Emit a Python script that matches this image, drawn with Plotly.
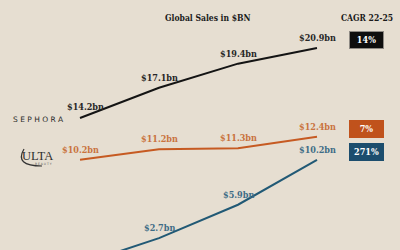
import plotly.graph_objects as go

years = [2022, 2023, 2024, 2025]
sephora = [14.2, 17.1, 19.4, 20.9]
ulta = [10.2, 11.2, 11.3, 12.4]
third = [0.2, 2.7, 5.9, 10.2]
cagr = ["14%", "7%", "271%"]
title = "Global Sales in $BN"
cagr_title = "CAGR 22-25"

BG = "#E6DED1"
series = [
    (sephora, "#141414", "#262626", "#0E0E0E"),
    (ulta, "#C65A22", "#C9733F", "#C0521C"),
    (third, "#215975", "#3E6C86", "#1C4D6D"),
]
FONT = "DejaVu Serif Condensed, DejaVu Serif"
YMIN, YMAX = 14.2 - 132 / 10.45, 14.2 + 118 / 10.45

fig = go.Figure()
for si, (vals, lc, tc, bc) in enumerate(series):
    fig.add_trace(go.Scatter(
        x=years, y=vals, mode="lines", line=dict(color=lc, width=2),
        hoverinfo="skip", showlegend=False))
    for i, (xv, v) in enumerate(zip(years, vals)):
        if v < YMIN:
            continue
        fig.add_annotation(
            x=xv, y=v, xref="x", yref="y", yshift=11 if i == 0 and si == 0 else 10,
            xshift=5 if i == 0 and si == 0 else 0, showarrow=False,
            text="<b>$%.1fbn</b>" % v,
            font=dict(family=FONT, size=9, color=tc))

for (vals, lc, tc, bc), lab in zip(series, cagr):
    fig.add_annotation(
        x=366 / 400, xref="paper", xanchor="center", y=vals[-1], yref="y", yshift=8,
        text="<b>%s</b>" % lab, showarrow=False,
        font=dict(family=FONT, size=9, color="#FFFFFF"),
        bgcolor=bc, width=31, height=14, borderpad=1,
        bordercolor="#8E8A84" if lab == cagr[0] else bc, borderwidth=1)

fig.add_annotation(x=208 / 400, xref="paper", xanchor="center", y=1 - 11 / 250, yref="paper",
                   text="<b>%s</b>" % title, showarrow=False,
                   font=dict(family=FONT, size=8.5, color="#1A1A1A"))
fig.add_annotation(x=367 / 400, xref="paper", xanchor="center", y=1 - 11 / 250, yref="paper",
                   text="<b>%s</b>" % cagr_title, showarrow=False,
                   font=dict(family=FONT, size=8.5, color="#1A1A1A"))

# logos
fig.add_annotation(x=38 / 400, xref="paper", xanchor="center", y=1 - 119 / 250, yref="paper",
                   text="S E P H O R A", showarrow=False,
                   font=dict(family="DejaVu Sans", size=7.5, color="#2A2A2A"))
fig.add_annotation(x=37 / 400, xref="paper", xanchor="center", y=1 - 156 / 250, yref="paper",
                   text="ULTA", showarrow=False,
                   font=dict(family="Liberation Serif", size=12.5, color="#2E2E2E"))
fig.add_annotation(x=43 / 400, xref="paper", xanchor="center", y=1 - 164 / 250, yref="paper",
                   text="B E A U T Y", showarrow=False,
                   font=dict(family="DejaVu Sans", size=3, color="#555555"))
fig.add_shape(type="path", xref="paper", yref="paper",
              path="M 0.06 0.404 Q 0.035 0.336 0.105 0.336",
              line=dict(color="#333333", width=1.2))

fig.update_layout(
    width=400, height=250, margin=dict(l=0, r=0, t=0, b=0),
    paper_bgcolor=BG, plot_bgcolor=BG,
    xaxis=dict(range=[2022 - 80 / 79, 2022 + 320 / 79], visible=False, fixedrange=True),
    yaxis=dict(range=[YMIN, YMAX], visible=False, fixedrange=True),
)
fig.write_html("out.html")
